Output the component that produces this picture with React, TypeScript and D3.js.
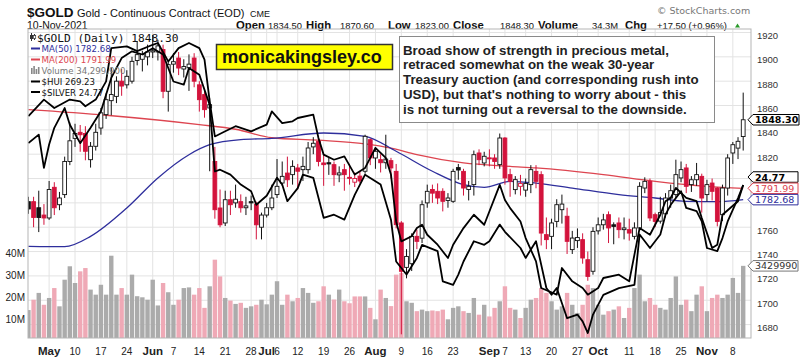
import React from 'react';
import * as d3 from 'd3';

// ---------- DATA ----------
const FIRST_DAY = '2021-04-27';
const HOLIDAYS = ['2021-05-31', '2021-07-05', '2021-09-06'];

const opens = [
  1781, 1781, 1776, 1770, 1767.6, 1792.8, 1778.5, 1786.8, 1814, 1833,
  1838, 1837, 1815.5, 1826.5, 1841.5, 1852.5, 1864, 1867.5, 1880, 1877,
  1880, 1897, 1898, 1900, 1904, 1904, 1906, 1871.7, 1894, 1899,
  1890, 1891, 1899, 1877, 1869, 1858, 1814, 1775.8, 1763.5, 1782.6,
  1780, 1781, 1776, 1781, 1779, 1760, 1770, 1776, 1786.8, 1796.3,
  1804.5, 1803.2, 1808.7, 1807.3, 1807.3, 1826, 1830.6, 1812.8, 1813, 1811.4,
  1803, 1807.3, 1801, 1797, 1802, 1806, 1831.9, 1816.9, 1815.5, 1813,
  1814.7, 1805.9, 1763.5, 1727, 1730, 1752.5, 1751, 1780, 1791, 1789.5,
  1789.5, 1782, 1781.3, 1809, 1805.9, 1791, 1795, 1821, 1812.8, 1817,
  1816.9, 1811.4, 1833.3, 1803.2, 1790.9, 1793.6, 1790.5, 1795, 1805.9, 1803.2,
  1753.9, 1752.5, 1764.8, 1774.4, 1769, 1741.6, 1749, 1749.8, 1733.3, 1723.8,
  1757, 1762, 1770.3, 1762, 1763.5, 1758, 1758, 1752.5, 1759.4, 1792.2,
  1797.7, 1770.3, 1765, 1771, 1784, 1786.8, 1800.5, 1808.7, 1795, 1799,
  1801.8, 1786.8, 1796.3, 1792.2, 1770.3, 1792.2, 1821, 1825, 1834.5,
];
const highs = [
  1785, 1785, 1790, 1779, 1798, 1797, 1789, 1818, 1846, 1845,
  1844, 1843, 1830, 1845, 1858, 1870, 1891, 1884, 1890, 1889,
  1900, 1913, 1905, 1910, 1918, 1914, 1910, 1897, 1903, 1904,
  1898, 1902, 1903, 1880, 1872, 1866, 1826, 1791, 1790, 1790,
  1795, 1787, 1785, 1786, 1781, 1772, 1780, 1795, 1816, 1814,
  1818, 1815, 1812, 1818, 1830, 1834, 1834, 1820, 1817, 1814,
  1810, 1812, 1812, 1805, 1806, 1836, 1833, 1826, 1820, 1836,
  1817, 1812, 1765, 1742, 1755, 1758, 1782, 1795, 1795, 1796,
  1792, 1788, 1808, 1812, 1808, 1798, 1823, 1824, 1822, 1824,
  1820, 1837, 1834, 1808, 1802, 1803, 1800, 1811, 1811, 1806,
  1768, 1767, 1783, 1786.8, 1776, 1757, 1759, 1755, 1740, 1760,
  1768, 1771, 1773, 1764, 1768, 1768, 1767, 1764, 1797, 1801,
  1800, 1772, 1785, 1788, 1795, 1815.5, 1814, 1812, 1802, 1812.8,
  1804, 1799, 1800, 1793, 1795, 1820, 1830, 1834, 1870.6,
];
const lows = [
  1771, 1760, 1756, 1762, 1766, 1770, 1774, 1784, 1811, 1826,
  1822, 1815, 1809, 1823, 1836, 1849, 1852, 1862, 1868, 1874,
  1878, 1893, 1888, 1893, 1899, 1897, 1866, 1855, 1887, 1885,
  1883, 1872, 1875, 1855, 1850, 1806, 1767, 1760, 1761, 1770,
  1776, 1772, 1770, 1774, 1750, 1750, 1768, 1774, 1784, 1794,
  1793, 1795, 1791, 1798, 1804, 1820, 1810, 1794, 1803, 1794,
  1797, 1790, 1795, 1793, 1796, 1804, 1811, 1808, 1805, 1808,
  1800, 1759, 1672, 1718, 1724, 1742, 1747, 1776, 1780, 1779,
  1773, 1776, 1780, 1799, 1786, 1782, 1786, 1811, 1810, 1810,
  1808, 1808, 1795, 1785, 1787, 1786, 1785, 1788, 1792, 1745,
  1742, 1742, 1760, 1763, 1738, 1738, 1743, 1730, 1716, 1721,
  1754, 1758, 1747, 1746, 1751, 1750, 1749, 1750, 1757, 1788,
  1765, 1760, 1763, 1768, 1776, 1784, 1797, 1788, 1789, 1794,
  1772, 1781, 1782, 1760.7, 1765, 1786, 1812, 1816, 1823,
];
const closes = [
  1775, 1768, 1768, 1767.6, 1791, 1776, 1784, 1814, 1831, 1837,
  1836, 1822.4, 1826.5, 1838, 1854, 1864.8, 1869, 1880, 1876, 1884,
  1896.3, 1901.8, 1902, 1904, 1905, 1909, 1871.7, 1893.6, 1896, 1890.8,
  1892, 1894, 1880, 1864.8, 1856.6, 1860.7, 1774.4, 1762, 1782.6, 1778.5,
  1783, 1776, 1777.5, 1780, 1762, 1770, 1776, 1784, 1793.6, 1801.8,
  1799, 1810, 1806, 1810, 1825.1, 1829, 1814, 1811.4, 1812, 1803.2,
  1804.6, 1803.2, 1800.5, 1800, 1798, 1834.7, 1816.9, 1822.4, 1813, 1816,
  1808.7, 1762.1, 1723.8, 1736, 1752.5, 1748.4, 1778.5, 1789.5, 1788, 1784,
  1781.3, 1784, 1805.9, 1807, 1792.2, 1793.6, 1819.6, 1815.5, 1818.3, 1816.9,
  1814, 1833.3, 1800.5, 1797.7, 1799.1, 1796, 1796, 1807.3, 1797.7, 1755.2,
  1749.8, 1763.5, 1778.5, 1779, 1748.4, 1751.1, 1751.5, 1734.7, 1719.6, 1756.6,
  1762, 1766, 1759.4, 1760.7, 1758, 1759.4, 1755.2, 1759.4, 1793.6, 1797.7,
  1767.6, 1764.8, 1772, 1784, 1790, 1803.2, 1807.3, 1793.6, 1799, 1803.2,
  1784, 1795, 1789.5, 1764.8, 1792.2, 1816.9, 1827.8, 1830.6, 1848.3,
];
// volume in millions
const volumes = [
  14.2, 18.9, 22, 16.6, 19.7, 24.2, 15.9, 28, 34.1, 26.5,
  31.8, 33.3, 23.5, 21.2, 25.7, 21.2, 38.9, 21.2, 24.2, 21.2,
  30.3, 20.5, 20, 18.9, 28, 16.3, 26.5, 22.3, 16.6, 18.9,
  24.2, 24.5, 21.2, 24.2, 15.2, 25, 37.1, 29.5, 19.7, 18.5,
  17, 17.5, 15.2, 15.9, 16.6, 18.9, 16.8, 21.2, 27.3, 16.6,
  21.2, 18.2, 19.7, 24.2, 22, 17.5, 18.2, 25, 21.2, 19,
  23.5, 18.2, 17.3, 20.4, 20.4, 20.4, 15.2, 10, 23.5, 19.7,
  16, 30.3, 31, 18.2, 17.5, 13.7, 14.4, 13.7, 14, 13.7,
  14.4, 10, 15.2, 15.9, 13.7, 12.9, 19.7, 12.1, 16.6, 11.3,
  15.2, 18.2, 25, 15.2, 14.4, 10.6, 15.2, 18.9, 19.7, 24.2,
  22, 18.2, 14.4, 15.9, 22, 16.6, 12.9, 16.6, 25.7, 24.2,
  16.6, 12.1, 13.7, 14.4, 15.9, 10.6, 15.2, 24.2, 30.3, 18.2,
  19.7, 16.6, 15.2, 14.4, 19.7, 29.5, 16.6, 18.9, 13.7, 21.2,
  25, 13.7, 19.7, 21.2, 19.7, 21.2, 28.8, 22, 34.3,
];

const ma50Idx = [0, 7, 12, 19, 25, 31, 35, 41, 47, 57, 65, 71, 78, 84, 88, 93, 98, 105, 114, 121, 127, 133, 138];
const ma50Val = [1744.3, 1744, 1752.5, 1775.8, 1800.5, 1819.6, 1827.8, 1832, 1833, 1837.4, 1834.7, 1822.4, 1806, 1795, 1792.8, 1797.7, 1796.3, 1792.2, 1786.8, 1784, 1781.3, 1781, 1782.68];

const ma200Idx = [0, 15, 33, 40, 47, 56, 65, 70, 75, 84, 93, 98, 111, 121, 131, 138];
const ma200Val = [1856.6, 1852, 1844.3, 1840.5, 1833.5, 1831.5, 1828.5, 1825, 1819.6, 1812.8, 1810, 1808.7, 1803.2, 1797.7, 1793.6, 1791.99];

const huiIdx = [0, 3, 5, 8, 10, 11, 13, 15, 16, 19, 21, 24, 25, 27, 29, 31, 33, 34, 35, 36, 38, 40, 43, 46, 47, 49, 51, 52, 55, 56, 57, 59, 61, 63, 65, 67, 69, 70, 71, 72, 74, 75, 76, 77, 79, 81, 82, 84, 86, 88, 91, 92, 93, 95, 96, 98, 99, 102, 103, 105, 107, 108, 110, 111, 114, 116, 118, 120, 122, 123, 124, 125, 127, 129, 130, 132, 133, 134, 137, 138];
const huiVal = [296.1, 302.6, 299.3, 302.6, 301.9, 300.0, 302.6, 309.7, 322.7, 323.4, 321.5, 324.0, 324.7, 317.5, 322.7, 324.7, 322.7, 318.2, 301.9, 288.2, 290.2, 292.2, 290.2, 292.8, 298.0, 293.4, 294.1, 295.4, 296.7, 287.6, 281.1, 279.1, 280.4, 273.3, 275.9, 283.7, 279.8, 273.3, 255.0, 247.2, 249.2, 252.4, 253.7, 249.8, 245.9, 240.7, 245.9, 252.4, 257.6, 253.7, 269.3, 263.4, 260.2, 255.0, 248.5, 239.4, 229.0, 226.4, 236.8, 231.6, 229.0, 226.4, 229.0, 232.9, 234.2, 231.6, 252.4, 249.8, 257.6, 262.9, 264.2, 268.1, 264.2, 262.9, 256.3, 244.6, 245.9, 257.6, 262.9, 269.23];

const silverIdx = [0, 2, 3, 4, 5, 7, 8, 10, 12, 14, 16, 18, 20, 22, 24, 26, 28, 30, 31, 33, 35, 36, 37, 39, 41, 43, 44, 46, 48, 49, 50, 52, 53, 55, 57, 59, 61, 63, 65, 68, 70, 71, 73, 75, 76, 79, 80, 82, 83, 84, 86, 88, 89, 91, 92, 95, 96, 98, 100, 101, 102, 104, 106, 107, 108, 109, 111, 114, 117, 118, 120, 122, 123, 124, 126, 127, 129, 130, 131, 133, 134, 135, 137, 138];
const silverVal = [25.70, 25.89, 25.15, 25.67, 26.04, 26.48, 26.11, 25.70, 26.04, 26.41, 27.15, 27.59, 27.74, 27.67, 27.81, 27.67, 27.07, 27.00, 27.37, 27.22, 26.55, 25.07, 25.11, 25.00, 24.78, 24.63, 24.33, 24.53, 24.93, 24.78, 24.41, 24.70, 25.00, 24.93, 24.04, 24.11, 24.00, 24.55, 25.00, 24.78, 24.00, 23.07, 22.78, 23.15, 23.44, 23.30, 22.63, 22.55, 22.78, 23.07, 23.52, 23.44, 23.52, 23.89, 23.73, 23.37, 23.15, 23.52, 22.48, 22.33, 22.48, 21.81, 21.89, 21.74, 21.48, 21.89, 22.33, 22.48, 22.55, 23.67, 23.37, 23.67, 24.11, 24.33, 24.63, 24.26, 24.19, 23.96, 23.37, 23.30, 23.59, 23.96, 24.48, 24.77];

const priceTicks = [1680, 1700, 1720, 1740, 1760, 1780, 1800, 1820, 1840, 1860, 1880, 1900, 1920];
const hiddenPriceLabels = [1780, 1800]; // covered by the value tags in the reference
const volumeTicks = [10, 20, 30, 40];
const volumeTickLabels = ['10M', '20M', '30M', '40M'];

const tickDates = ['2021-05-03', '2021-05-10', '2021-05-17', '2021-05-24', '2021-06-01', '2021-06-07', '2021-06-14', '2021-06-21', '2021-06-28', '2021-07-01', '2021-07-06', '2021-07-12', '2021-07-19', '2021-07-26', '2021-08-02', '2021-08-09', '2021-08-16', '2021-08-23', '2021-09-01', '2021-09-07', '2021-09-13', '2021-09-20', '2021-09-27', '2021-10-01', '2021-10-11', '2021-10-18', '2021-10-25', '2021-11-01', '2021-11-08'];
const tickLabels = ['May', '10', '17', '24', 'Jun', '7', '14', '21', '28', 'Jul', '6', '12', '19', '26', 'Aug', '9', '16', '23', 'Sep', '7', '13', '20', '27', 'Oct', '11', '18', '25', 'Nov', '8'];

const headerItems = [
  { label: 'Open', value: '1834.50' },
  { label: 'High', value: '1870.60' },
  { label: 'Low', value: '1823.00' },
  { label: 'Close', value: '1848.30' },
  { label: 'Volume', value: '34.3M' },
  { label: 'Chg', value: '+17.50 (+0.96%)' },
];

const noteLines = [
  'Broad show of strength in precious metal,',
  'retraced somewhat on the weak 30-year',
  'Treasury auction (and corresponding rush into',
  "USD), but that's nothing to worry about - this",
  'is not turning out a reversal to the downside.',
];

// ---------- HELPERS ----------
function buildDays(n: number): string[] {
  const out: string[] = [];
  const d = new Date(FIRST_DAY + 'T00:00:00Z');
  while (out.length < n) {
    const wd = d.getUTCDay();
    const s = d.toISOString().slice(0, 10);
    if (wd !== 0 && wd !== 6 && !HOLIDAYS.includes(s)) out.push(s);
    d.setUTCDate(d.getUTCDate() + 1);
  }
  return out;
}

const RED = '#d3133c';
const BLACK = '#111';
const VOL_RED = '#efa9b6';
const VOL_GRAY = '#ababab';
const MA50_C = '#2e2e9c';
const MA200_C = '#dd4550';
const SANS = '"Liberation Sans", Arial, sans-serif';
const DV = '"DejaVu Sans", Verdana, sans-serif';

const L = 28, T = 29, R = 751, B = 338;

function Tag(props: { y: number; text: string; stroke: string; color: string; bold?: boolean; w?: number }) {
  const { y, text, stroke, color, bold } = props;
  const h = 10.5;
  const tip = 748, bx = 753, bw = props.w ?? 45;
  const d = `M${tip},${y} L${bx},${y - h / 2} L${bx + bw},${y - h / 2} L${bx + bw},${y + h / 2} L${bx},${y + h / 2} Z`;
  return (
    <g>
      <path d={d} fill="#fff" stroke={stroke} strokeWidth={1} />
      <text x={bx + 2} y={y + 3.6} fontFamily={DV} fontSize={9.5} fontWeight={bold ? 'bold' : 'normal'} fill={color}>{text}</text>
    </g>
  );
}

export default function App() {
  const n = closes.length;
  const days = buildDays(n);
  const x = d3.scaleLinear().domain([0, n - 1]).range([28.4, 743.2]);
  const y = d3.scaleLinear().domain([1680, 1920]).range([32.5 + 240 * 1.217, 32.5]);
  const yVol = d3.scaleLinear().domain([0, 40]).range([341.3, 253.3]);
  const yHui = d3.scaleLinear().domain([220, 330]).range([185 + (269.23 - 220) * 2.56, 185 - (330 - 269.23) * 2.56]);
  const ySilver = d3.scaleLinear().domain([21, 29]).range([185 + (24.77 - 21) * 45, 185 - (29 - 24.77) * 45]);

  const maLine = d3.line<[number, number]>().curve(d3.curveMonotoneX);
  const ma50Path = maLine(ma50Idx.map((k, j) => [x(k), y(ma50Val[j])] as [number, number])) || '';
  const ma200Path = maLine(ma200Idx.map((k, j) => [x(k), y(ma200Val[j])] as [number, number])) || '';
  const lin = d3.line<[number, number]>();
  const huiPath = lin(huiIdx.map((k, j) => [x(k), yHui(huiVal[j])] as [number, number])) || '';
  const silverPath = lin(silverIdx.map((k, j) => [x(k), ySilver(silverVal[j])] as [number, number])) || '';

  const bodyW = 3.8;
  const volW = 4.4;

  const ticks = tickDates.map((dt, k) => ({ i: days.indexOf(dt), label: tickLabels[k] })).filter(t => t.i >= 0);

  // header x positions
  const headerLabelX = [236, 306, 388, 453, 538, 625];
  const headerValueX = [268, 340, 415, 500, 592, 657];

  return (
    <div style={{ position: 'absolute', left: 0, top: 0 }}>
      <svg width={803} height={360} style={{ display: 'block', background: '#fff' }}>
        <defs>
          <clipPath id="plot"><rect x={L} y={T} width={R - L} height={B - T} /></clipPath>
        </defs>
        <rect x={0} y={0} width={803} height={360} fill="#fff" />

        {/* Header */}
        <text x={27} y={16.5} fontFamily={SANS} fontSize={13.5} fontWeight="bold" fill="#111">$GOLD</text>
        <text x={77} y={16.5} fontFamily={SANS} fontSize={11} fill="#111">Gold - Continuous Contract (EOD)</text>
        <text x={250} y={16.5} fontFamily={SANS} fontSize={9} fill="#111">CME</text>
        <text x={27} y={28.8} fontFamily={SANS} fontSize={10.5} fill="#111">10-Nov-2021</text>
        <text x={657} y={14} fontFamily={DV} fontSize={9.5} fill="#777">© StockCharts.com</text>
        {headerItems.map((h, k) => (
          <g key={h.label}>
            <text x={headerLabelX[k]} y={28.8} fontFamily={SANS} fontSize={11.3} fontWeight="bold" fill="#111">{h.label}</text>
            <text x={headerValueX[k]} y={28.8} fontFamily={SANS} fontSize={9.4} fill="#111">{h.value}</text>
          </g>
        ))}
        <path d="M735,27.5 L740,27.5 L737.5,23.5 Z" fill="#2a9a2a" />

        {/* Grid */}
        {priceTicks.map(p => (
          <line key={'h' + p} x1={L} x2={R} y1={y(p)} y2={y(p)} stroke="#e3e3e3" strokeWidth={1} />
        ))}
        {ticks.map(t => (
          <line key={'v' + t.i} x1={x(t.i)} x2={x(t.i)} y1={T} y2={B} stroke="#e3e3e3" strokeWidth={1} />
        ))}

        <g clipPath="url(#plot)">
          {/* Volume */}
          {volumes.map((v, i) => {
            const down = i > 0 && closes[i] < closes[i - 1];
            return (
              <rect key={'vol' + i} x={x(i) - volW / 2} y={yVol(v)} width={volW} height={yVol(0) - yVol(v)}
                fill={down ? VOL_RED : VOL_GRAY} />
            );
          })}

          {/* Moving averages */}
          <path d={ma200Path} fill="none" stroke={MA200_C} strokeWidth={1.3} />
          <path d={ma50Path} fill="none" stroke={MA50_C} strokeWidth={1.3} />

          {/* Candles */}
          {closes.map((c, i) => {
            const o = opens[i];
            const down = i > 0 && c < closes[i - 1];
            const col = down ? RED : BLACK;
            const filled = c < o;
            const top = y(Math.max(o, c));
            const bot = y(Math.min(o, c));
            const cx = x(i);
            return (
              <g key={'c' + i}>
                <line x1={cx} x2={cx} y1={y(highs[i])} y2={y(lows[i])} stroke={col} strokeWidth={1} />
                <rect x={cx - bodyW / 2} y={top} width={bodyW} height={Math.max(1, bot - top)}
                  fill={filled ? col : '#fff'} stroke={col} strokeWidth={0.9} />
              </g>
            );
          })}

          {/* Overlays */}
          <path d={silverPath} fill="none" stroke="#000" strokeWidth={1.8} strokeLinejoin="round" />
          <path d={huiPath} fill="none" stroke="#000" strokeWidth={1.8} strokeLinejoin="round" />
        </g>

        {/* Plot border */}
        <rect x={L} y={T} width={R - L} height={B - T} fill="none" stroke="#b5b5b5" strokeWidth={1} />

        {/* Right axis labels */}
        {priceTicks.filter(p => !hiddenPriceLabels.includes(p)).map(p => (
          <text key={'pl' + p} x={757} y={y(p) + 6.5} fontFamily={SANS} fontSize={9.5} fill="#333">{p}</text>
        ))}
        {/* Left volume labels */}
        {volumeTicks.map((v, k) => (
          <text key={'vl' + v} x={25} y={yVol(v) + 3.5} textAnchor="end" fontFamily={SANS} fontSize={10} fill="#222">{volumeTickLabels[k]}</text>
        ))}
        {/* X axis labels */}
        {ticks.map(t => {
          const isMonth = isNaN(Number(t.label));
          return (
            <text key={'xl' + t.i} x={x(t.i)} y={355} textAnchor="middle" fontFamily={SANS}
              fontSize={isMonth ? 11.5 : 10} fontWeight={isMonth ? 'bold' : 'normal'} fill="#222">{t.label}</text>
          );
        })}

        {/* Legend */}
        <g>
          <line x1={31.5} x2={31.5} y1={33} y2={41} stroke="#333" strokeWidth={1} />
          <rect x={30} y={35} width={3} height={4} fill="#333" />
          <line x1={34.5} x2={34.5} y1={34} y2={40} stroke="#333" strokeWidth={1} />
          <rect x={33.5} y={35.5} width={2.2} height={3} fill="#fff" stroke="#333" strokeWidth={0.7} />
          <text x={37} y={41.5} fontFamily='"DejaVu Sans Mono", monospace' fontSize={11.2} fill="#111">$GOLD (Daily) 1848.30</text>

          <line x1={31} x2={40} y1={48.5} y2={48.5} stroke={MA50_C} strokeWidth={2} />
          <text x={41.5} y={52} fontFamily={DV} fontSize={8.6} fill={MA50_C}>MA(50) 1782.68</text>
          <line x1={31} x2={40} y1={59.5} y2={59.5} stroke={MA200_C} strokeWidth={2} />
          <text x={41.5} y={63} fontFamily={DV} fontSize={8.6} fill={MA200_C}>MA(200) 1791.99</text>
          <rect x={31} y={68} width={1.6} height={6} fill="#888" />
          <rect x={33.3} y={66} width={1.6} height={8} fill="#888" />
          <rect x={35.6} y={69} width={1.6} height={5} fill="#888" />
          <rect x={37.9} y={67} width={1.6} height={7} fill="#888" />
          <text x={41.5} y={74} fontFamily={DV} fontSize={8.6} fill="#777">Volume 34,299,900</text>
          <line x1={31} x2={40} y1={81.5} y2={81.5} stroke="#000" strokeWidth={2} />
          <text x={41.5} y={85} fontFamily={DV} fontSize={8.6} fill="#111">$HUI 269.23</text>
          <line x1={31} x2={40} y1={92} y2={92} stroke="#000" strokeWidth={2} />
          <text x={41.5} y={95.5} fontFamily={DV} fontSize={8.6} fill="#111">$SILVER 24.77</text>
        </g>

        {/* Annotation boxes */}
        <rect x={216.5} y={44.5} width={176} height={25} fill="#ffff00" stroke="#333" strokeWidth={1.5} />
        <text x={222} y={62.5} fontFamily={SANS} fontSize={18} fontWeight="bold" fill="#111">monicakingsley.co</text>

        <rect x={399.5} y={36.5} width={315} height={86} fill="#fff" stroke="#8a8a8a" strokeWidth={1} />
        {noteLines.map((t, k) => (
          <text key={'n' + k} x={403} y={54.5 + k * 14.8} fontFamily={SANS} fontSize={13.3} fontWeight="bold" fill="#222">{t}</text>
        ))}

        {/* Value tags */}
        <Tag y={ySilver(24.77) - 8} text="24.77" stroke="#000" color="#000" bold />
        <Tag y={y(1791.99)} text="1791.99" stroke={MA200_C} color={MA200_C} />
        <Tag y={y(1782.68)} text="1782.68" stroke={MA50_C} color={MA50_C} />
        <Tag y={y(1848.3)} text="1848.30" stroke="#000" color="#000" bold w={46} />
        <Tag y={yVol(34.3)} text="3429990" stroke="#777" color="#333" />
      </svg>
    </div>
  );
}
